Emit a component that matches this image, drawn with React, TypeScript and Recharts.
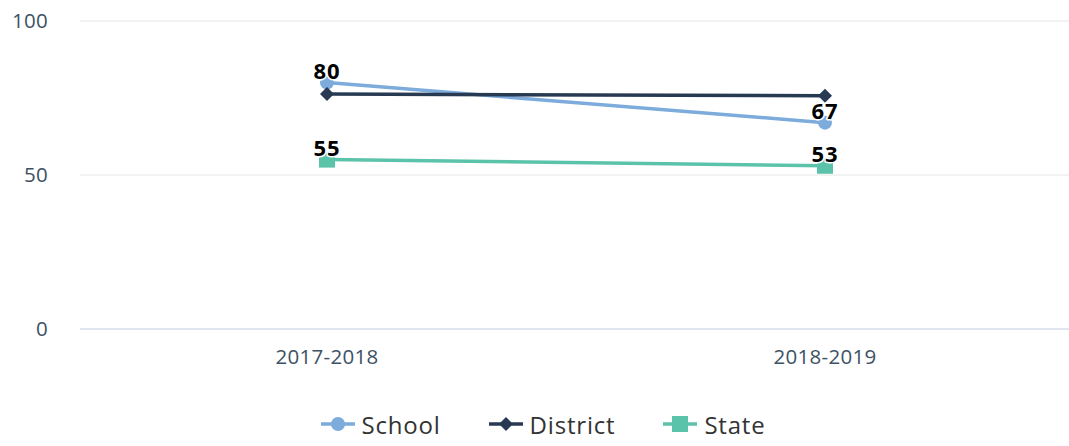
import React from 'react';
import { LineChart, Line, XAxis, YAxis, CartesianGrid, Legend, LabelList } from 'recharts';

const years = ['2017-2018', '2018-2019'];
const school = [80, 67];
const district = [76.3, 75.7];
const state = [55, 53];
const yTicks = [0, 50, 100];

const data = years.map((year, i) => ({
  year,
  school: school[i],
  district: district[i],
  state: state[i],
}));

const FONT = '"Open Sans", sans-serif';

const SERIES = [
  { key: 'school', name: 'School', color: '#7cabdc', marker: 'circle', labels: true },
  { key: 'district', name: 'District', color: '#273a52', marker: 'diamond', labels: false },
  { key: 'state', name: 'State', color: '#5cc3ab', marker: 'square', labels: true },
];

function Marker({ cx, cy, type, color }: { cx: number; cy: number; type: string; color: string }) {
  if (type === 'circle') return <circle cx={cx} cy={cy} r={7} fill={color} />;
  if (type === 'diamond')
    return <path d={`M${cx},${cy - 7}L${cx + 7},${cy}L${cx},${cy + 7}L${cx - 7},${cy}Z`} fill={color} />;
  return <rect x={cx - 8} y={cy - 8} width={16} height={16} fill={color} />;
}

const renderLabel = (props: any) => {
  const { x, y, value } = props;
  return (
    <text
      x={x}
      y={y - 13}
      textAnchor="middle"
      dominantBaseline="central"
      fontFamily={FONT}
      fontWeight={700}
      fontSize={22}
      letterSpacing={1}
      fill="#000"
      stroke="#fff"
      strokeWidth={3}
      strokeLinejoin="round"
      paintOrder="stroke"
    >
      {value}
    </text>
  );
};

const renderLegend = () => (
  <div style={{ display: 'flex', justifyContent: 'center', alignItems: 'center', height: 38, paddingLeft: 17, fontFamily: FONT }}>
    {SERIES.map((s, i) => (
      <div key={s.key} style={{ display: 'flex', alignItems: 'center', marginRight: i < SERIES.length - 1 ? 48 : 0 }}>
        <svg width={34} height={20} style={{ marginRight: 7 }}>
          <line x1={0} y1={10} x2={34} y2={10} stroke={s.color} strokeWidth={3.5} />
          <Marker cx={17} cy={10} type={s.marker} color={s.color} />
        </svg>
        <span style={{ fontSize: 24, letterSpacing: 0.8, color: '#333' }}>{s.name}</span>
      </div>
    ))}
  </div>
);

export default function App() {
  return (
    <div style={{ position: 'absolute', left: 0, top: 0 }}>
      <LineChart width={1069} height={446} data={data} margin={{ top: 21, right: 0, left: 0, bottom: 3 }}>
        <CartesianGrid vertical={false} stroke="#e6e6e6" />
        <XAxis
          dataKey="year"
          axisLine={{ stroke: '#ccd6eb' }}
          tickLine={false}
          tickSize={0}
          tickMargin={20}
          height={76}
          padding={{ left: 247, right: 244 }}
          tick={{ fill: '#3d5165', fontSize: 20.5, fontFamily: FONT, letterSpacing: 0.3 }}
        />
        <YAxis
          domain={[0, 100]}
          ticks={yTicks}
          width={80}
          axisLine={false}
          tickLine={false}
          tickSize={0}
          tickMargin={32}
          tick={{ fill: '#3d5165', fontSize: 20.5, fontFamily: FONT, letterSpacing: 0.3 }}
        />
        <Legend verticalAlign="bottom" content={renderLegend} />
        {SERIES.map((s) => (
          <Line
            key={s.key}
            dataKey={s.key}
            name={s.name}
            stroke={s.color}
            strokeWidth={3.5}
            isAnimationActive={false}
            dot={(p: any) => <Marker key={`${s.key}-${p.index}`} cx={p.cx} cy={p.cy} type={s.marker} color={s.color} />}
            activeDot={false}
          >
            {s.labels && <LabelList dataKey={s.key} content={renderLabel} />}
          </Line>
        ))}
      </LineChart>
    </div>
  );
}
